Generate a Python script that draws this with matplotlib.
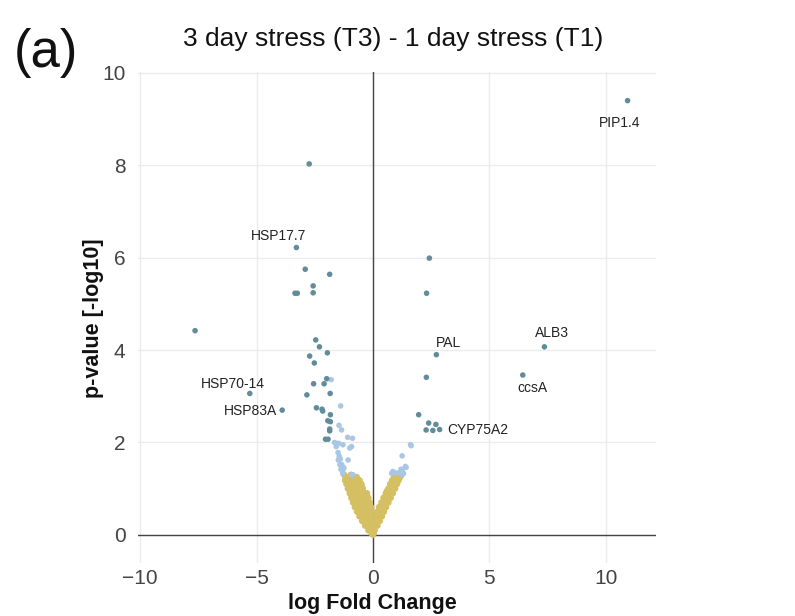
import matplotlib
matplotlib.use("Agg")
import matplotlib.pyplot as plt

plt.rcParams['font.family'] = ['Liberation Sans', 'DejaVu Sans']

# ---- data ----
# significant genes (dark)
sig_x = [-2.74, -3.29, -2.91, -1.86, -2.57, -2.57, -3.35, -3.25, -7.64, -2.46,
         -2.30, -2.72, -1.96, -2.52, -1.99, -2.10, -2.55, -1.84, -2.84, -5.29,
         -3.90, -2.43, -2.19, -2.16, -1.83, -1.94, -1.83, -1.86, -1.86, -2.04,
         -1.93,
         2.42, 2.30, 2.72, 7.36, 6.43, 2.29, 1.96, 2.39, 2.70, 2.28, 2.57, 2.86, 10.93]
sig_y = [8.03, 6.22, 5.75, 5.64, 5.39, 5.24, 5.23, 5.23, 4.42, 4.22,
         4.07, 3.87, 3.94, 3.72, 3.38, 3.27, 3.27, 3.06, 3.03, 3.06,
         2.70, 2.75, 2.72, 2.68, 2.60, 2.47, 2.45, 2.29, 2.25, 2.07,
         2.07,
         5.99, 5.23, 3.90, 4.07, 3.46, 3.41, 2.60, 2.42, 2.39, 2.27, 2.26, 2.28, 9.40]

# p significant but small fold change (light blue)
mid_x = [-1.80, -1.39, -1.46, -1.35, -1.09, -0.88, -1.65, -1.58, -1.48, -1.00,
         -1.40, -1.07, -1.42, -1.38, -1.30, -0.86, -1.25, -1.45, -1.50, -1.59,
         -1.29, -0.92, -1.49, -1.34, -1.29, -0.92, -1.30,
         1.61, 1.25, 1.39, 1.25, 1.06, 0.85, 1.31, 0.80, 1.64, 1.20, 1.42, 1.25, 0.92]
mid_y = [3.36, 2.79, 2.37, 2.27, 2.11, 2.09, 2.00, 1.91, 1.98, 1.88,
         1.64, 1.62, 1.52, 1.42, 1.35, 1.30, 1.45, 1.70, 1.78, 1.98,
         1.95, 1.91, 1.62, 1.52, 1.41, 1.30, 1.33,
         1.95, 1.71, 1.48, 1.41, 1.34, 1.37, 1.33, 1.33, 1.93, 1.42, 1.46, 1.30, 1.35]

# not significant (yellow)
ns_x = [-1.18, -1.02, -0.86, -0.70,
        -1.20, -1.05, -0.90, -0.75, -0.58,
        -1.14, -0.98, -0.82, -0.66, -0.50,
        -1.08, -0.92, -0.76, -0.60, -0.44,
        -1.00, -0.85, -0.70, -0.55, -0.40, -0.26,
        -0.93, -0.78, -0.63, -0.48, -0.34, -0.20,
        -0.86, -0.71, -0.56, -0.42, -0.28, -0.14,
        -0.78, -0.64, -0.50, -0.36, -0.22, -0.08,
        -0.68, -0.55, -0.42, -0.29, -0.16, -0.05,
        -0.58, -0.46, -0.34, -0.22, -0.10,
        -0.47, -0.36, -0.25, -0.14, -0.04,
        -0.34, -0.24, -0.14, -0.05,
        -0.20, -0.11, -0.03,
        -0.06, 0.00,
        0.90, 1.05, 1.16,
        0.82, 0.96, 1.10,
        0.74, 0.88, 1.03,
        0.66, 0.80, 0.95,
        0.55, 0.70, 0.85,
        0.45, 0.60, 0.76,
        0.36, 0.50, 0.66,
        0.26, 0.41, 0.56,
        0.19, 0.33, 0.47,
        0.13, 0.25, 0.38,
        0.08, 0.18, 0.29,
        0.04, 0.11, 0.19,
        0.02, 0.07,
        0.02,
        -1.24, -0.95, -0.48, 1.20, 0.60, 0.50]
ns_y = [1.25, 1.25, 1.25, 1.25,
        1.18, 1.18, 1.18, 1.18, 1.18,
        1.10, 1.10, 1.10, 1.10, 1.10,
        1.00, 1.00, 1.00, 1.00, 1.00,
        0.90, 0.90, 0.90, 0.90, 0.90, 0.90,
        0.80, 0.80, 0.80, 0.80, 0.80, 0.80,
        0.70, 0.70, 0.70, 0.70, 0.70, 0.70,
        0.60, 0.60, 0.60, 0.60, 0.60, 0.60,
        0.50, 0.50, 0.50, 0.50, 0.50, 0.50,
        0.40, 0.40, 0.40, 0.40, 0.40,
        0.30, 0.30, 0.30, 0.30, 0.30,
        0.20, 0.20, 0.20, 0.20,
        0.10, 0.10, 0.10,
        0.03, 0.00,
        1.25, 1.25, 1.25,
        1.18, 1.18, 1.18,
        1.10, 1.10, 1.10,
        1.00, 1.00, 1.00,
        0.90, 0.90, 0.90,
        0.80, 0.80, 0.80,
        0.70, 0.70, 0.70,
        0.60, 0.60, 0.60,
        0.50, 0.50, 0.50,
        0.40, 0.40, 0.40,
        0.30, 0.30, 0.30,
        0.20, 0.20, 0.20,
        0.10, 0.10,
        0.03,
        1.30, 1.30, 1.05, 1.28, 0.95, 0.75]

# annotated genes
lab_text = ["HSP17.7", "HSP70-14", "HSP83A", "PAL", "ALB3", "ccsA", "CYP75A2", "PIP1.4"]
lab_x = [-4.04, -6.03, -5.27, 3.23, 7.70, 6.83, 4.48, 10.59]
lab_y = [6.46, 3.27, 2.68, 4.16, 4.37, 3.18, 2.27, 8.92]

x_ticks = [-10, -5, 0, 5, 10]
x_tick_labels = ["\u221210", "\u22125", "0", "5", "10"]
y_ticks = [0, 2, 4, 6, 8, 10]

# ---- figure ----
fig = plt.figure(figsize=(7.95, 6.16), dpi=100)
ax = fig.add_axes([138 / 795, (616 - 563) / 616, (656 - 138) / 795, (563 - 72) / 616])

ax.set_xlim(-10.09, 12.15)
ax.set_ylim(-0.61, 10.02)

for s in ax.spines.values():
    s.set_visible(False)
ax.set_xticks(x_ticks)
ax.set_yticks(y_ticks)
ax.set_xticklabels(x_tick_labels)
ax.tick_params(length=0, labelsize=15, labelcolor='#444444')
ax.tick_params(axis='x', pad=4)
ax.tick_params(axis='y', pad=9)
ax.grid(True, color='#ebebeb', linewidth=1)
ax.set_axisbelow(True)
ax.axvline(0, color='#444444', linewidth=1, zorder=1)
ax.axhline(0, color='#444444', linewidth=1, zorder=1)

ax.scatter(ns_x, ns_y, s=22, color='#d4bf62', edgecolors='none', zorder=3)
ax.scatter(mid_x, mid_y, s=16, color='#a9c6e4', edgecolors='none', zorder=3)
ax.scatter(sig_x, sig_y, s=16, color='#628c9b', edgecolors='none', zorder=4)

for t, x, y in zip(lab_text, lab_x, lab_y):
    ax.text(x, y, t, fontsize=10, ha='center', va='center', color='#222222', zorder=5)

fig.text(372 / 795, 1 - 604 / 616, "log Fold Change", fontsize=15.5, fontweight='bold',
         ha='center', va='center', color='#111111')
fig.text(93 / 795, 1 - 318 / 616, "p-value [-log10]", fontsize=15.5, fontweight='bold',
         rotation=90, ha='center', va='center', color='#111111')

fig.text(393 / 795, 1 - 39 / 616, "3 day stress (T3) - 1 day stress (T1)",
         fontsize=19, ha='center', va='center', color='#111111')
fig.text(46 / 795, 1 - 53 / 616, "(a)", fontsize=38, ha='center', va='center', color='#111111')

fig.savefig("out.png", dpi=100)
